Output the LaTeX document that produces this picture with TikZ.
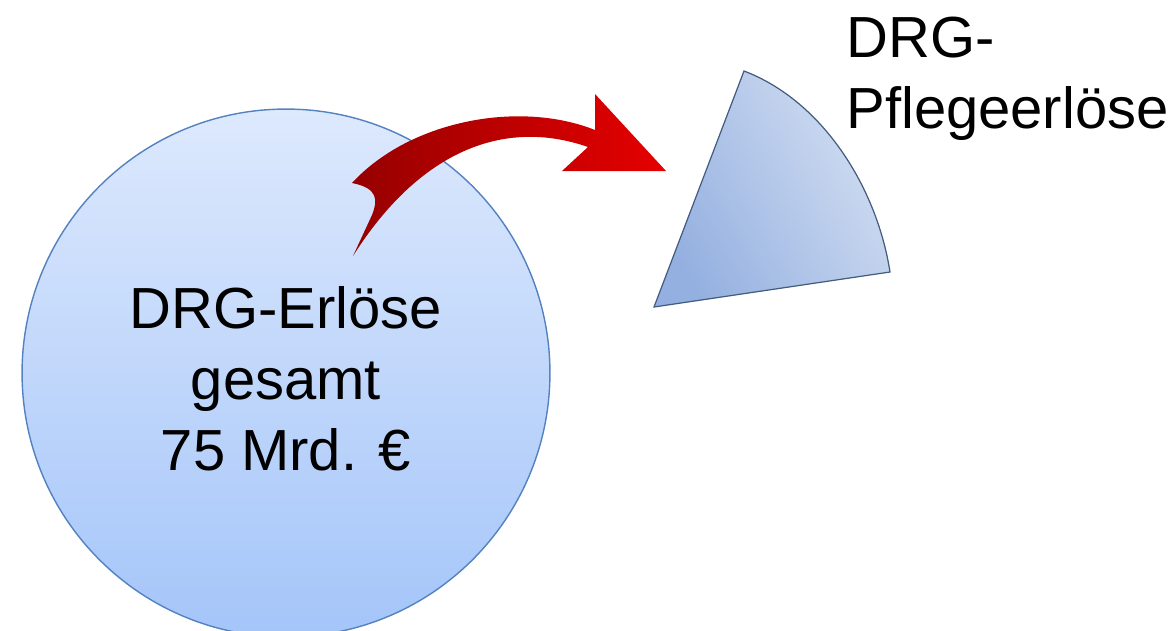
\documentclass[tikz,border=0pt]{standalone}
\usepackage{fontspec}
\setmainfont{Liberation Sans}
\definecolor{circtop}{RGB}{221,233,253}
\definecolor{circbot}{RGB}{164,197,249}
\definecolor{circline}{RGB}{84,130,192}
\definecolor{wedgeleft}{RGB}{148,176,224}
\definecolor{wedgeright}{RGB}{210,222,242}
\definecolor{wedgeline}{RGB}{68,92,128}
\definecolor{arrowdark}{RGB}{150,0,0}
\definecolor{arrowlight}{RGB}{230,0,0}
\tikzset{bigtext/.style={font=\fontsize{33}{40.4}\selectfont, inner sep=0pt}}

\begin{document}
\begin{tikzpicture}[x=0.02cm,y=-0.02cm]
    \clip (0,0) rectangle (1173,630);
    \node[circle, draw=circline, line width=0.8pt, top color=circtop, bottom color=circbot, minimum size=10.56cm, inner sep=0pt] (total) at (286,373) {};
    \node[bigtext, align=center] (totaltext) at (286,379) {DRG-Erlöse\\gesamt\\75 Mrd. €};
    \draw[wedgeline, line width=0.7pt, left color=wedgeleft, right color=wedgeright, shading angle=120] (654,307) -- (744,71) .. controls (823,101) and (877,188) .. (890,272) -- cycle;
    \path[left color=arrowdark, right color=arrowlight] (352,183) .. controls (410,120) and (520,100) .. (595,130) -- (595,94) -- (666,171) -- (562,171) -- (588,147) .. controls (505,118) and (420,150) .. (353,256) -- (372,215) .. controls (378,200) and (378,188) .. (352,183) -- cycle;
    \node[bigtext, align=left, anchor=north west] (care) at (846,17) {DRG-\\Pflegeerlöse};
  \end{tikzpicture}
\end{document}
